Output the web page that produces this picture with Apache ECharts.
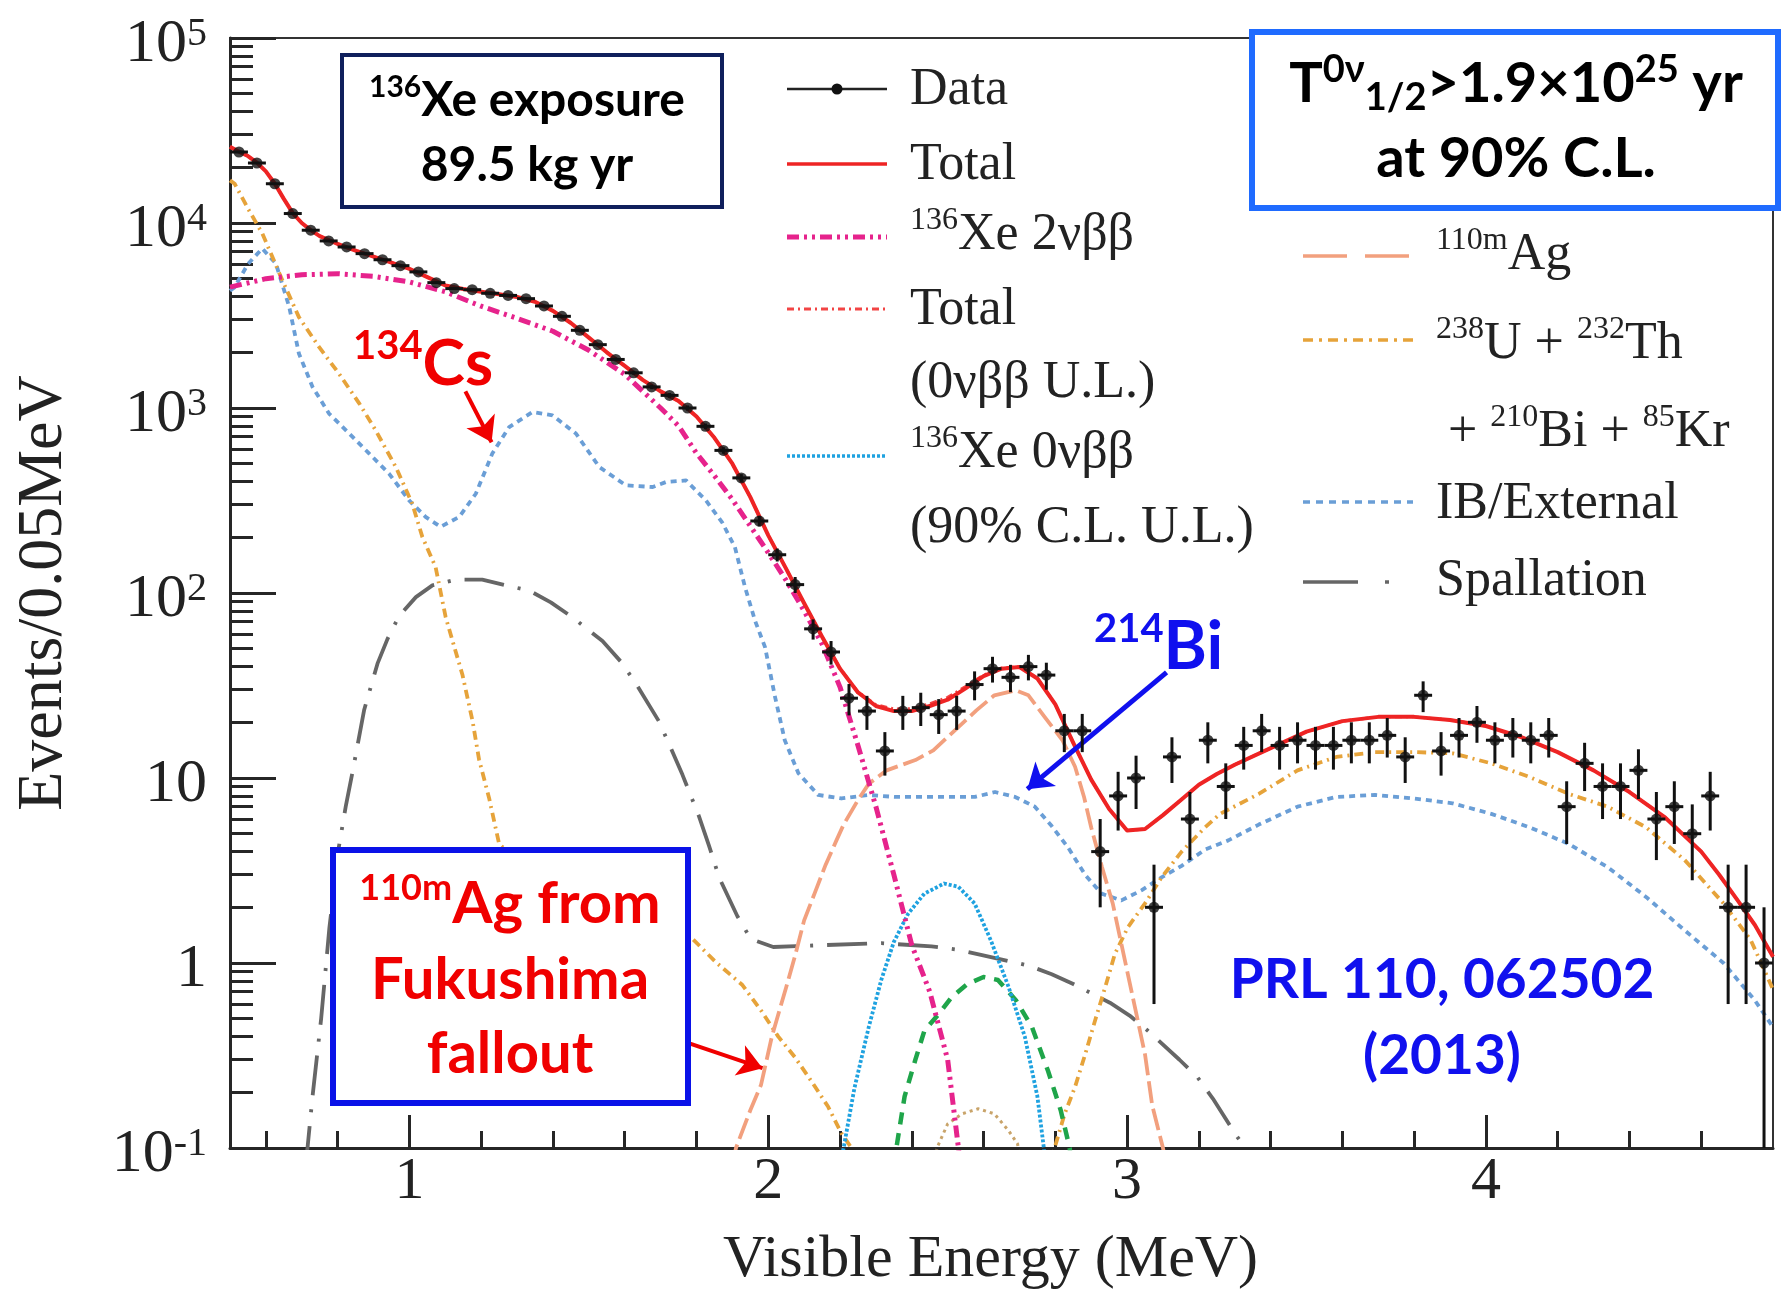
<!DOCTYPE html>
<html>
<head>
<meta charset="utf-8">
<script src="https://cdn.jsdelivr.net/npm/echarts@6/dist/echarts.min.js"></script>
<style>
  html, body { margin: 0; padding: 0; background: #ffffff; }
  #chart { width: 1787px; height: 1290px; }
</style>
</head>
<body>
<div id="chart"></div>
<script>
// Visible-energy spectrum of 136Xe double-beta decay candidates, 0.05 MeV bins.

// ---- measured spectrum ----
const binEnergy = [0.525, 0.575, 0.625, 0.675, 0.725, 0.775, 0.825, 0.875, 0.925, 0.975,
  1.025, 1.075, 1.125, 1.175, 1.225, 1.275, 1.325, 1.375, 1.425, 1.475,
  1.525, 1.575, 1.625, 1.675, 1.725, 1.775, 1.825, 1.875, 1.925, 1.975,
  2.025, 2.075, 2.125, 2.175, 2.225, 2.275, 2.325, 2.375, 2.425, 2.475,
  2.525, 2.575, 2.625, 2.675, 2.725, 2.775, 2.825, 2.875, 2.925, 2.975,
  3.025, 3.075, 3.125, 3.175, 3.225, 3.275, 3.325, 3.375, 3.425, 3.475,
  3.525, 3.575, 3.625, 3.675, 3.725, 3.775, 3.825, 3.875, 3.925, 3.975,
  4.025, 4.075, 4.125, 4.175, 4.225, 4.275, 4.325, 4.375, 4.425, 4.475,
  4.525, 4.575, 4.625, 4.675, 4.725, 4.775];
const dataCounts = [24200, 21100, 16300, 11250, 9140, 8000, 7420, 6830, 6330, 5880,
  5440, 4760, 4420, 4360, 4170, 4060, 3900, 3560, 3130, 2630,
  2200, 1830, 1550, 1300, 1170, 1000, 796, 590, 419, 245,
  161, 111, 64, 48, 27, 23, 14, 23, 24, 22,
  23, 32, 39, 35, 40, 36, 18, 18, 4, 8,
  10, 2, 13, 6, 16, 9, 15, 18, 15, 16,
  15, 15, 16, 16, 17, 13, 28, 14, 17, 20,
  16, 17, 16, 17, 7, 12, 9, 9, 11, 6,
  7, 5, 8, 2, 2, 1];
const dataErrors = [156, 145, 128, 106, 96, 89, 86, 83, 80, 77,
  74, 69, 66, 66, 65, 64, 62, 60, 56, 51,
  47, 43, 39, 36, 34, 32, 28, 24, 20, 16,
  13, 11, 8, 7, 5.2, 4.8, 3.7, 4.8, 4.9, 4.7,
  4.8, 5.7, 6.2, 5.9, 6.3, 6, 4.2, 4.2, 2, 2.8,
  3.2, 1.4, 3.6, 2.4, 4, 3, 3.9, 4.2, 3.9, 4,
  3.9, 3.9, 4, 4, 4.1, 3.6, 5.3, 3.7, 4.1, 4.5,
  4, 4.1, 4, 4.1, 2.6, 3.5, 3, 3, 3.3, 2.4,
  2.6, 2.2, 2.8, 1.4, 1.4, 1];

// ---- fitted components [energy MeV, events / 0.05 MeV] ----
const fitTotal = [[0.5, 25800], [0.525, 24300], [0.55, 23000], [0.575, 21200], [0.6, 19000], [0.625, 16300],
  [0.65, 13500], [0.675, 11300], [0.7, 10000], [0.725, 9150], [0.75, 8500], [0.8, 7700], [0.85, 7100],
  [0.9, 6580], [0.95, 6100], [1.0, 5650], [1.05, 5100], [1.1, 4600], [1.15, 4400], [1.2, 4250],
  [1.25, 4120], [1.3, 3980], [1.35, 3750], [1.4, 3350], [1.45, 2880], [1.5, 2400], [1.55, 2000],
  [1.6, 1690], [1.65, 1420], [1.7, 1230], [1.75, 1090], [1.8, 900], [1.85, 690], [1.9, 500],
  [1.95, 330], [2.0, 205], [2.05, 135], [2.1, 88], [2.15, 58], [2.2, 39], [2.25, 29], [2.3, 24.5],
  [2.35, 23], [2.4, 23], [2.45, 24.5], [2.5, 26.5], [2.55, 30.5], [2.6, 35.5], [2.65, 39], [2.7, 39.8],
  [2.75, 34.5], [2.8, 25], [2.85, 15.5], [2.9, 9.8], [2.95, 6.8], [3.0, 5.2], [3.05, 5.3], [3.1, 6.3],
  [3.15, 7.6], [3.2, 9.2], [3.25, 10.5], [3.3, 11.8], [3.4, 14.5], [3.5, 17.8], [3.6, 20.3], [3.7, 21.4],
  [3.8, 21.4], [3.9, 20.6], [4.0, 19.1], [4.1, 16.6], [4.2, 13.8], [4.3, 11], [4.4, 8.4], [4.5, 6.1],
  [4.6, 4.0], [4.65, 3.0], [4.7, 2.2], [4.75, 1.6], [4.8, 1.08]];
const fitTotalWithLimit = [[0.5, 25800], [0.525, 24300], [0.55, 23000], [0.575, 21200], [0.6, 19000], [0.625, 16300],
  [0.65, 13500], [0.675, 11300], [0.7, 10000], [0.725, 9150], [0.75, 8500], [0.8, 7700], [0.85, 7100],
  [0.9, 6580], [0.95, 6100], [1.0, 5650], [1.05, 5100], [1.1, 4600], [1.15, 4400], [1.2, 4250],
  [1.25, 4120], [1.3, 3980], [1.35, 3750], [1.4, 3350], [1.45, 2880], [1.5, 2400], [1.55, 2000],
  [1.6, 1690], [1.65, 1420], [1.7, 1230], [1.75, 1090], [1.8, 900], [1.85, 690], [1.9, 500],
  [1.95, 330], [2.0, 205], [2.05, 135], [2.1, 88], [2.15, 58], [2.2, 39.1], [2.25, 29.2], [2.3, 24.9],
  [2.35, 23.6], [2.4, 23.7], [2.45, 25.2], [2.5, 27.3], [2.55, 31.2], [2.6, 36], [2.65, 39.3], [2.7, 40],
  [2.75, 34.6], [2.8, 25], [2.85, 15.5], [2.9, 9.8], [2.95, 6.8], [3.0, 5.2], [3.05, 5.3], [3.1, 6.3],
  [3.15, 7.6], [3.2, 9.2], [3.25, 10.5], [3.3, 11.8], [3.4, 14.5], [3.5, 17.8], [3.6, 20.3], [3.7, 21.4],
  [3.8, 21.4], [3.9, 20.6], [4.0, 19.1], [4.1, 16.6], [4.2, 13.8], [4.3, 11], [4.4, 8.4], [4.5, 6.1],
  [4.6, 4.0], [4.65, 3.0], [4.7, 2.2], [4.75, 1.6], [4.8, 1.08]];
const xe2nbb = [[0.5, 4500], [0.6, 5000], [0.7, 5250], [0.8, 5320], [0.9, 5150], [1.0, 4800], [1.1, 4250],
  [1.2, 3550], [1.3, 3050], [1.4, 2600], [1.5, 2050], [1.6, 1520], [1.7, 1000], [1.75, 800], [1.8, 570],
  [1.85, 430], [1.9, 320], [1.95, 230], [2.0, 165], [2.05, 117], [2.1, 80], [2.15, 53], [2.2, 31],
  [2.25, 15], [2.3, 7], [2.35, 3], [2.4, 1.25], [2.45, 0.7], [2.5, 0.3], [2.53, 0.1], [2.535, 0.08]];
const xe0nbbLimit = [[2.2, 0.08], [2.21, 0.1], [2.24, 0.21], [2.28, 0.45], [2.315, 0.81], [2.35, 1.3],
  [2.39, 1.85], [2.435, 2.37], [2.49, 2.69], [2.53, 2.58], [2.575, 2.1], [2.62, 1.33], [2.67, 0.74],
  [2.715, 0.40], [2.75, 0.19], [2.768, 0.1], [2.772, 0.08]];
const peakGreen = [[2.352, 0.08], [2.357, 0.1], [2.38, 0.19], [2.41, 0.30], [2.435, 0.43], [2.475, 0.53],
  [2.51, 0.65], [2.555, 0.77], [2.6, 0.84], [2.64, 0.81], [2.69, 0.63], [2.735, 0.45], [2.78, 0.26],
  [2.815, 0.16], [2.84, 0.1], [2.845, 0.08]];
const peakGold = [[2.465, 0.08], [2.47, 0.1], [2.5, 0.135], [2.54, 0.153], [2.585, 0.163], [2.63, 0.153],
  [2.67, 0.124], [2.695, 0.105], [2.702, 0.08]];
const ag110m = [[1.9, 0.08], [1.91, 0.1], [1.95, 0.16], [1.98, 0.22], [2.01, 0.4], [2.05, 0.74], [2.075, 1.1],
  [2.1, 1.7], [2.13, 2.4], [2.16, 3.4], [2.19, 4.6], [2.21, 5.6], [2.25, 7.6], [2.28, 9.3], [2.33, 11],
  [2.41, 12.5], [2.46, 14.1], [2.52, 18.1], [2.58, 23.2], [2.63, 28], [2.69, 29.8], [2.725, 28],
  [2.77, 21.4], [2.82, 16], [2.855, 11.5], [2.88, 7.9], [2.9, 5.4], [2.93, 3.3], [2.96, 2.1], [2.99, 1.12],
  [3.02, 0.6], [3.05, 0.32], [3.07, 0.17], [3.1, 0.1], [3.11, 0.08]];
const uthBiKr = [[0.5, 17000], [0.513, 16300], [0.553, 11700], [0.59, 8780], [0.646, 4900], [0.692, 3100],
  [0.748, 2140], [0.804, 1530], [0.86, 1060], [0.906, 757], [0.962, 480], [1.008, 304], [1.036, 201],
  [1.073, 138], [1.101, 74], [1.148, 36], [1.176, 20.3], [1.194, 12.6], [1.222, 7.8], [1.25, 4.4],
  [1.35, 2.9], [1.5, 2.0], [1.65, 1.6], [1.789, 1.35], [1.854, 1.01], [1.928, 0.76], [1.981, 0.55],
  [2.028, 0.40], [2.074, 0.31], [2.12, 0.23], [2.167, 0.167], [2.204, 0.12], [2.232, 0.1], [2.24, 0.08],
  [2.5, null],
  [2.79, 0.08], [2.798, 0.1], [2.826, 0.153], [2.855, 0.214], [2.883, 0.32], [2.911, 0.49], [2.939, 0.74],
  [2.966, 1.12], [3.003, 1.57], [3.05, 2.1], [3.096, 2.9], [3.152, 4.0], [3.217, 5.4], [3.259, 6.4],
  [3.367, 8.2], [3.475, 11], [3.583, 13], [3.691, 13.8], [3.799, 13.8], [3.907, 13.6], [4.015, 12],
  [4.123, 10.1], [4.231, 8.2], [4.339, 7.0], [4.447, 5.4], [4.554, 3.6], [4.662, 2.1], [4.738, 1.33],
  [4.8, 0.72]];
const ibExternal = [[0.5, 4300], [0.513, 4500], [0.55, 6000], [0.59, 7280], [0.628, 6030], [0.665, 3520],
  [0.692, 1970], [0.73, 1300], [0.776, 933], [0.832, 728], [0.888, 567], [0.943, 442], [0.999, 317],
  [1.045, 258], [1.087, 228], [1.139, 258], [1.185, 344], [1.231, 567], [1.278, 789], [1.343, 951],
  [1.399, 912], [1.464, 728], [1.529, 480], [1.603, 382], [1.678, 374], [1.715, 398], [1.771, 406],
  [1.826, 317], [1.872, 240], [1.907, 177], [1.935, 108], [1.963, 71], [1.991, 51], [2.019, 27.4],
  [2.046, 16], [2.084, 10.6], [2.139, 8.1], [2.204, 7.75], [2.278, 8.1], [2.353, 7.9], [2.427, 7.9],
  [2.501, 7.9], [2.576, 7.9], [2.632, 8.4], [2.688, 7.9], [2.743, 7.0], [2.79, 5.5], [2.836, 4.2],
  [2.883, 3.0], [2.929, 2.37], [2.984, 2.18], [3.04, 2.47], [3.096, 2.9], [3.152, 3.35], [3.217, 4.1],
  [3.282, 4.6], [3.367, 5.6], [3.475, 7.0], [3.583, 7.9], [3.691, 8.1], [3.799, 7.75], [3.907, 7.3],
  [4.015, 6.4], [4.123, 5.4], [4.231, 4.4], [4.339, 3.3], [4.447, 2.27], [4.554, 1.5], [4.662, 1.0],
  [4.749, 0.63], [4.8, 0.45]];
const spallation = [[0.71, 0.08], [0.716, 0.1], [0.73, 0.19], [0.754, 0.5], [0.777, 1.55], [0.803, 4.2],
  [0.823, 7.1], [0.842, 10.9], [0.874, 23.4], [0.911, 41.5], [0.939, 56.5], [0.971, 75], [1.018, 95],
  [1.064, 110], [1.129, 118], [1.203, 118], [1.268, 110], [1.334, 103], [1.394, 89], [1.454, 74],
  [1.538, 55], [1.589, 42.6], [1.63, 32.7], [1.695, 20.3], [1.728, 14.6], [1.761, 10.4], [1.807, 6.2],
  [1.835, 4.3], [1.863, 2.9], [1.914, 1.79], [1.951, 1.35], [2.014, 1.22], [2.158, 1.25], [2.315, 1.28],
  [2.455, 1.23], [2.529, 1.18], [2.599, 1.1], [2.724, 0.97], [2.79, 0.87], [2.85, 0.77], [2.952, 0.61],
  [3.007, 0.52], [3.058, 0.43], [3.146, 0.30], [3.197, 0.24], [3.239, 0.185], [3.304, 0.117],
  [3.33, 0.1], [3.34, 0.08]];

// ---- axes ----
const X_MIN = 0.5, X_MAX = 4.8, Y_MIN = 0.1, Y_MAX = 100000;
const xMajorTicks = [1, 2, 3, 4];
const xTickLabels = ['1', '2', '3', '4'];
const xMinorTicks = [0.6, 0.8, 1.2, 1.4, 1.6, 1.8, 2.2, 2.4, 2.6, 2.8, 3.2, 3.4, 3.6, 3.8, 4.2, 4.4, 4.6];
const yMajorTicks = [0.1, 1, 10, 100, 1000, 10000, 100000];
const yTickLabels = ['{b|10}{s|-1}', '{b|1}', '{b|10}', '{b|10}{s|2}', '{b|10}{s|3}', '{b|10}{s|4}', '{b|10}{s|5}'];
const yMinorTicks = [0.2, 0.3, 0.4, 0.5, 0.6, 0.7, 0.8, 0.9, 2, 3, 4, 5, 6, 7, 8, 9,
  20, 30, 40, 50, 60, 70, 80, 90, 200, 300, 400, 500, 600, 700, 800, 900,
  2000, 3000, 4000, 5000, 6000, 7000, 8000, 9000, 20000, 30000, 40000, 50000, 60000, 70000, 80000, 90000];
const BIN_HALF = 0.025;

// ---- annotation arrows (data coordinates: tail, head) ----
const cs134Arrow = [[1.156, 1230], [1.229, 653]];
const bi214Arrow = [[3.110, 37.2], [2.722, 8.7]];
const fukushimaArrow = [[1.780, 0.368], [1.984, 0.27]];

const SERIF = "'Liberation Serif','Times New Roman',serif";
const SANS = "Lato,'Noto Sans','Liberation Sans',sans-serif";
const AXIS_COLOR = '#262626';
const TEXT_COLOR = '#222222';

const COLORS = {
  total: '#ee2424', totalLimit: '#f24444', xe2: '#e6238c', xe0: '#1fa2e0', ag: '#f2a07e',
  uth: '#e6a33a', ib: '#6a9ed6', spall: '#666666', green: '#1fa54a', gold: '#c9a46a'
};
const DASH = {
  xe2: [12, 5, 3, 5, 3, 5], totalLimit: [7, 4, 2, 4], xe0: [3, 2], ag: [22, 6], uth: [9, 5, 2, 5],
  ib: [6, 5], spall: [40, 14, 3, 14], green: [12, 9], gold: [3, 4]
};

function curve(name, data, color, width, dash, z) {
  return {
    type: 'line', name: name, data: data, showSymbol: false, symbol: 'none', smooth: false,
    clip: true, connectNulls: false, z: z || 2, silent: true,
    lineStyle: { color: color, width: width, type: dash || 'solid', cap: 'butt', join: 'round' },
    emphasis: { disabled: true }
  };
}

// ---- legend and annotation drawing ----
function sample(x1, x2, y, color, width, dash) {
  return { type: 'line', z: 60, silent: true, shape: { x1: x1, y1: y, x2: x2, y2: y },
    style: { stroke: color, lineWidth: width, lineDash: dash || null } };
}
const legendRich = {
  b: { fontSize: 52, fontFamily: SERIF, fill: TEXT_COLOR, lineHeight: 60 },
  s: { fontSize: 32, fontFamily: SERIF, fill: TEXT_COLOR, lineHeight: 36, verticalAlign: 'top' }
};
function legendText(x, y, text) {
  return { type: 'text', z: 60, silent: true, x: x, y: y,
    style: { text: text, rich: legendRich, align: 'left', verticalAlign: 'middle' } };
}
function richSans(size, supSize, color, supLh) {
  return {
    b: { fontSize: size, fontFamily: SANS, fontWeight: 'bold', fill: color, lineHeight: Math.round(size * 1.18) },
    s: { fontSize: supSize, fontFamily: SANS, fontWeight: 'bold', fill: color, lineHeight: supLh, verticalAlign: 'top' },
    u: { fontSize: supSize, fontFamily: SANS, fontWeight: 'bold', fill: color, lineHeight: 24, verticalAlign: 'bottom' }
  };
}
function note(x, y, text, rich, align) {
  return { type: 'text', z: 110, silent: true, x: x, y: y,
    style: { text: text, rich: rich, align: align || 'center', verticalAlign: 'middle' } };
}
function box(x, y, w, h, stroke, lw) {
  return { type: 'rect', z: 100, silent: true, shape: { x: x, y: y, width: w, height: h },
    style: { fill: '#ffffff', stroke: stroke, lineWidth: lw } };
}

const LX1 = 787, LX2 = 887, RX1 = 1303, RX2 = 1413;
const graphics = [
  // left legend column
  sample(LX1, LX2, 89, '#222', 2.5),
  { type: 'circle', z: 61, silent: true, shape: { cx: (LX1 + LX2) / 2, cy: 89, r: 5.5 }, style: { fill: '#111' } },
  legendText(910, 90, '{b|Data}'),
  sample(LX1, LX2, 164, COLORS.total, 3.5),
  legendText(910, 165, '{b|Total}'),
  sample(LX1, LX2, 237, COLORS.xe2, 5, DASH.xe2),
  legendText(910, 235, '{s|136}{b|Xe 2νββ}'),
  sample(LX1, LX2, 309, COLORS.totalLimit, 3, DASH.totalLimit),
  legendText(910, 310, '{b|Total}'),
  legendText(910, 383, '{b|(0νββ U.L.)}'),
  sample(LX1, LX2, 456, COLORS.xe0, 3.5, DASH.xe0),
  legendText(910, 453, '{s|136}{b|Xe 0νββ}'),
  legendText(910, 528, '{b|(90% C.L. U.L.)}'),
  // right legend column
  sample(RX1, RX2, 256, COLORS.ag, 3.5, [44, 18]),
  legendText(1436, 255, '{s|110m}{b|Ag}'),
  sample(RX1, RX2, 340, COLORS.uth, 3.5, [10, 6, 3, 6]),
  legendText(1436, 344, '{s|238}{b|U + }{s|232}{b|Th}'),
  legendText(1448, 432, '{b|+ }{s|210}{b|Bi + }{s|85}{b|Kr}'),
  sample(RX1, RX2, 502, COLORS.ib, 3.5, [7, 6]),
  legendText(1436, 504, '{b|IB/External}'),
  sample(RX1, RX1 + 55, 582, COLORS.spall, 3.5),
  sample(RX1 + 82, RX1 + 86, 582, COLORS.spall, 3.5),
  legendText(1436, 581, '{b|Spallation}'),

  // exposure box
  box(342, 55, 380, 152, '#0f1f5c', 4),
  note(527, 101, '{s|136}{b|Xe exposure}', richSans(48, 30, '#000000', 40)),
  note(527, 166, '{b|89.5 kg yr}', richSans(48, 30, '#000000', 40)),
  // half-life limit box
  box(1252, 32, 526, 176, '#1f6bff', 6),
  note(1516, 84, '{b|T}{s|0ν}{u|1/2}{b|>1.9×10}{s|25}{b| yr}', richSans(56, 38, '#000000', 44)),
  note(1516, 159, '{b|at 90% C.L.}', richSans(56, 38, '#000000', 44)),
  // Fukushima box
  box(333, 850, 355, 253, '#0a12e8', 6),
  note(510, 904, '{s|110m}{b|Ag from}', richSans(58, 36, '#f00000', 44)),
  note(510, 980, '{b|Fukushima}', richSans(58, 36, '#f00000', 44)),
  note(510, 1054, '{b|fallout}', richSans(58, 36, '#f00000', 44)),
  // isotope tags
  note(353, 364, '{s|134}{b|Cs}', richSans(64, 40, '#f00000', 46), 'left'),
  note(1094, 648, '{s|214}{b|Bi}', richSans(66, 40, '#1010ee', 46), 'left'),
  // reference
  note(1442, 980, '{b|PRL 110, 062502}', richSans(55, 36, '#1010ee', 40)),
  note(1442, 1056, '{b|(2013)}', richSans(55, 36, '#1010ee', 40))
];

function arrow(points, color, width) {
  return [
    { coord: points[0], symbol: 'none', lineStyle: { color: color, width: width, type: 'solid' } },
    { coord: points[1], symbol: 'arrow' }
  ];
}

const chart = echarts.init(document.getElementById('chart'), null, { renderer: 'canvas' });
const option = {
  animation: false,
  backgroundColor: '#ffffff',
  grid: {
    left: 230, top: 38, width: 1543, height: 1110,
    show: true, borderColor: '#333333', borderWidth: 2, backgroundColor: 'transparent',
    containLabel: false, outerBoundsMode: 'none'
  },
  xAxis: [
    {
      type: 'value', min: X_MIN, max: X_MAX, position: 'bottom',
      name: 'Visible Energy (MeV)', nameLocation: 'middle', nameGap: 82,
      nameTextStyle: { fontFamily: SERIF, fontSize: 60, color: TEXT_COLOR, lineHeight: 60, padding: [0, 22, 0, 0] },
      axisLine: { show: true, onZero: false, lineStyle: { color: AXIS_COLOR, width: 3 } },
      axisTick: { show: true, inside: true, length: 33, customValues: xMajorTicks, lineStyle: { color: AXIS_COLOR, width: 3 } },
      axisLabel: {
        show: true, customValues: xMajorTicks, margin: 4,
        formatter: function (v) { const i = xMajorTicks.indexOf(v); return i >= 0 ? xTickLabels[i] : ''; },
        fontFamily: SERIF, fontSize: 60, lineHeight: 60, color: TEXT_COLOR
      },
      splitLine: { show: false }
    },
    {
      type: 'value', min: X_MIN, max: X_MAX, position: 'bottom',
      axisLine: { show: false },
      axisTick: { show: true, inside: true, length: 17, customValues: xMinorTicks, lineStyle: { color: AXIS_COLOR, width: 3 } },
      axisLabel: { show: false },
      splitLine: { show: false }
    }
  ],
  yAxis: [
    {
      type: 'log', logBase: 10, min: Y_MIN, max: Y_MAX, position: 'left',
      name: 'Events/0.05MeV', nameLocation: 'middle', nameGap: 154, nameRotate: 90,
      nameTextStyle: { fontFamily: SERIF, fontSize: 64, color: TEXT_COLOR, lineHeight: 64 },
      axisLine: { show: true, onZero: false, lineStyle: { color: AXIS_COLOR, width: 3 } },
      axisTick: { show: true, inside: true, length: 46, customValues: yMajorTicks, lineStyle: { color: AXIS_COLOR, width: 3 } },
      axisLabel: {
        show: true, customValues: yMajorTicks, margin: 23, padding: [14, 0, 0, 0],
        formatter: function (v) {
          const i = yMajorTicks.findIndex(function (t) { return Math.abs(Math.log10(t) - Math.log10(v)) < 1e-6; });
          return i >= 0 ? yTickLabels[i] : '';
        },
        rich: {
          b: { fontFamily: SERIF, fontSize: 62, lineHeight: 62, color: TEXT_COLOR },
          s: { fontFamily: SERIF, fontSize: 40, lineHeight: 31, color: TEXT_COLOR, verticalAlign: 'top' }
        }
      },
      splitLine: { show: false }
    },
    {
      type: 'log', logBase: 10, min: Y_MIN, max: Y_MAX, position: 'left',
      axisLine: { show: false },
      axisTick: { show: true, inside: true, length: 23, customValues: yMinorTicks, lineStyle: { color: AXIS_COLOR, width: 3 } },
      axisLabel: { show: false },
      splitLine: { show: false }
    }
  ],
  series: [
    curve('Spallation', spallation, COLORS.spall, 3.8, DASH.spall),
    curve('IB/External', ibExternal, COLORS.ib, 3.8, DASH.ib),
    curve('238U + 232Th + 210Bi + 85Kr', uthBiKr, COLORS.uth, 3.8, DASH.uth),
    curve('110mAg', ag110m, COLORS.ag, 3.8, DASH.ag),
    curve('peak', peakGold, COLORS.gold, 3, DASH.gold),
    curve('peak 2', peakGreen, COLORS.green, 4.5, DASH.green),
    curve('136Xe 0νββ (90% C.L. U.L.)', xe0nbbLimit, COLORS.xe0, 3.8, DASH.xe0),
    curve('136Xe 2νββ', xe2nbb, COLORS.xe2, 5, DASH.xe2, 3),
    curve('Total (0νββ U.L.)', fitTotalWithLimit, COLORS.totalLimit, 3, DASH.totalLimit, 3),
    curve('Total', fitTotal, COLORS.total, 4, 'solid', 4),
    {
      type: 'custom', name: 'Data errors', coordinateSystem: 'cartesian2d', clip: true, z: 5, silent: true,
      data: binEnergy.map(function (e, i) { return [e, dataCounts[i], dataErrors[i]]; }),
      encode: { x: 0, y: 1 },
      renderItem: function (params, api) {
        const e = api.value(0), v = api.value(1), err = api.value(2);
        const lo = Math.max(v - err, Y_MIN), hi = v + err;
        const pTop = api.coord([e, hi]), pBot = api.coord([e, lo]);
        const pL = api.coord([e - BIN_HALF, v]), pR = api.coord([e + BIN_HALF, v]);
        return {
          type: 'group', children: [
            { type: 'line', shape: { x1: pTop[0], y1: pTop[1], x2: pBot[0], y2: pBot[1] }, style: { stroke: '#111111', lineWidth: 3 } },
            { type: 'line', shape: { x1: pL[0], y1: pL[1], x2: pR[0], y2: pR[1] }, style: { stroke: '#111111', lineWidth: 3 } }
          ]
        };
      }
    },
    {
      type: 'scatter', name: 'Data', z: 6, silent: true,
      data: binEnergy.map(function (e, i) { return [e, dataCounts[i]]; }),
      symbol: 'circle', symbolSize: 11, itemStyle: { color: '#111111' },
      markLine: {
        silent: true, animation: false, symbolSize: 24, label: { show: false },
        emphasis: { disabled: true },
        data: [
          arrow(cs134Arrow, '#f00000', 4),
          arrow(bi214Arrow, '#1010ee', 5),
          arrow(fukushimaArrow, '#f00000', 4)
        ]
      }
    }
  ],
  graphic: { elements: graphics }
};
chart.setOption(option);
</script>
</body>
</html>
